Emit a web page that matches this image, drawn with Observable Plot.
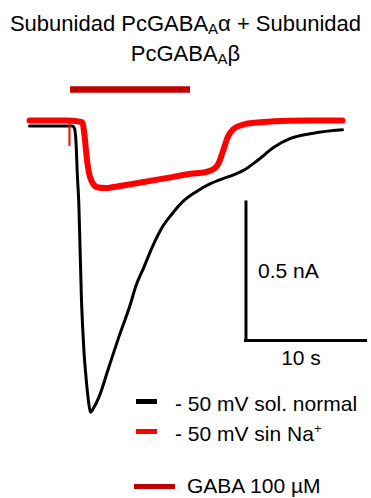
<!DOCTYPE html>
<html>
<head>
<meta charset="utf-8">
<script src="https://cdn.jsdelivr.net/npm/d3@7"></script>
<script src="https://cdn.jsdelivr.net/npm/@observablehq/plot@0.6"></script>
<style>
  html, body { margin: 0; padding: 0; background: #fff; }
  body { width: 371px; height: 498px; position: relative; overflow: hidden; font-family: "Liberation Sans", Arial, sans-serif; }
  #title { height: 72px; box-sizing: border-box; padding-top: 10px; text-align: center; font-size: 22px; line-height: 28px; color: #000; white-space: nowrap; }
  .sub { font-size: 15px; position: relative; top: 3px; }
  #chart svg { display: block; }
  .leg { position: absolute; font-size: 21px; line-height: 24px; color: #000; white-space: nowrap; }
  .sw { position: absolute; }
  sup { font-size: 13px; position: relative; top: -8px; vertical-align: baseline; line-height: 0; }
</style>
</head>
<body>
<div id="title">Subunidad PcGABA<span class="sub">A</span>α + Subunidad<br>PcGABA<span class="sub">A</span>β</div>
<div id="chart"></div>
<div id="legend"></div>
<script>
// Trace: -50 mV normal solution (time in s, current in nA)
const blackT = [0, 3.58, 3.75, 3.89, 3.98, 4.11, 4.33, 4.53, 4.73, 4.94, 5.08, 5.36, 5.78, 6.61, 7.44, 8.42, 8.83, 9.53, 10.23, 11.06, 11.89, 12.73, 13.83, 15.08, 16.17, 17.0, 17.83, 19.0, 20.33, 21.75, 23.67, 26.08];
const blackI = [0, 0, -0.009, -0.07, -0.17, -0.28, -0.63, -0.81, -0.92, -1.005, -1.037, -1.02, -0.983, -0.874, -0.765, -0.644, -0.584, -0.512, -0.439, -0.367, -0.318, -0.276, -0.240, -0.209, -0.190, -0.177, -0.161, -0.125, -0.078, -0.045, -0.026, -0.014];
// Trace: -50 mV without Na+
const redT = [0, 3.25, 4.39, 4.61, 4.75, 4.94, 5.23, 5.64, 6.33, 7.0, 8.67, 11.5, 13.42, 14.67, 15.42, 15.75, 16.0, 16.25, 16.5, 17.0, 17.58, 18.17, 20.33, 23.17, 26.08];
const redI = [0.02, 0.02, 0.014, -0.045, -0.107, -0.167, -0.204, -0.222, -0.225, -0.221, -0.209, -0.188, -0.173, -0.167, -0.154, -0.136, -0.107, -0.074, -0.042, -0.011, 0.002, 0.009, 0.017, 0.02, 0.02];
// Artefact spike on the red trace
const redSpikeT = [3.33];
const redSpikeFrom = [0.02];
const redSpikeTo = [-0.074];
// GABA application (s)
const gabaStart = [3.42];
const gabaEnd = [13.42];
const gabaLevel = [0.132];
// Scale bars
const scaleOriginT = [18.04];
const scaleOriginI = [-0.777];
const scaleDT = [10];     // s
const scaleDI = [0.5];    // nA
const scaleLabels = ["10 s", "0.5 nA"];
// Legend
const legendLabels = ["- 50 mV sol. normal", "- 50 mV sin Na<sup>+</sup>", "GABA 100 µM"];
const legendColors = ["#000000", "#ff0000", "#c00000"];

const blackData = blackT.map((t, i) => ({t, I: blackI[i]}));
const redData = redT.map((t, i) => ({t, I: redI[i]}));
const spikeData = redSpikeT.map((t, i) => ({t, y1: redSpikeFrom[i], y2: redSpikeTo[i]}));
const gabaData = gabaStart.map((s, i) => ({x1: s, x2: gabaEnd[i], y: gabaLevel[i]}));
const vBar = scaleOriginT.map((t, i) => ({t, y1: scaleOriginI[i], y2: scaleOriginI[i] + scaleDI[i]}));
const hBar = scaleOriginT.map((t, i) => ({x1: t, x2: t + scaleDT[i], y: scaleOriginI[i]}));
const tLabel = [{t: scaleOriginT[0] + scaleDT[0] / 2, I: scaleOriginI[0], text: scaleLabels[0]}];
const iLabel = [{t: scaleOriginT[0], I: scaleOriginI[0] + scaleDI[0] / 2, text: scaleLabels[1]}];

const W = 371, H = 426;
const chart = Plot.plot({
  width: W, height: H, margin: 0,
  style: {fontFamily: "'Liberation Sans', Arial, sans-serif", background: "white"},
  x: {domain: [-29 / 12, (371 - 29) / 12], axis: null},
  y: {domain: [(53.5 - 426) / 276, 53.5 / 276], axis: null},
  marks: [
    Plot.ruleY(gabaData, {x1: "x1", x2: "x2", y: "y", stroke: legendColors[2], strokeWidth: 6.5}),
    Plot.line(blackData, {x: "t", y: "I", stroke: legendColors[0], strokeWidth: 3, curve: "monotone-x"}),
    Plot.line(redData, {x: "t", y: "I", stroke: legendColors[1], strokeWidth: 6, curve: "monotone-x"}),
    Plot.ruleX(spikeData, {x: "t", y1: "y1", y2: "y2", stroke: legendColors[1], strokeWidth: 2}),
    Plot.ruleX(vBar, {x: "t", y1: "y1", y2: "y2", stroke: "#000", strokeWidth: 3, strokeLinecap: "square"}),
    Plot.ruleY(hBar, {x1: "x1", x2: "x2", y: "y", stroke: "#000", strokeWidth: 3, strokeLinecap: "square"}),
    Plot.text(tLabel, {x: "t", y: "I", text: "text", dx: -5, dy: 18, fontSize: 21, textAnchor: "middle", lineAnchor: "middle", fill: "#000"}),
    Plot.text(iLabel, {x: "t", y: "I", text: "text", dx: 12, dy: 0, fontSize: 21, textAnchor: "start", lineAnchor: "middle", fill: "#000"})
  ]
});
document.getElementById("chart").appendChild(chart);

// Legend overlay (page pixels)
const leg = document.getElementById("legend");
const legRows = [
  {sx: 136, sw: 21, sy: 398.5, sh: 5, tx: 175, ty: 404},
  {sx: 136, sw: 21, sy: 428.5, sh: 5, tx: 175, ty: 434},
  {sx: 134, sw: 41, sy: 483.5, sh: 5.5, tx: 187, ty: 486}
];
legendLabels.forEach((lab, i) => {
  const r = legRows[i];
  const s = document.createElement("div");
  s.className = "sw";
  s.style.cssText = `left:${r.sx}px;top:${r.sy}px;width:${r.sw}px;height:${r.sh}px;background:${legendColors[i]}`;
  leg.appendChild(s);
  const t = document.createElement("div");
  t.className = "leg";
  t.style.left = r.tx + "px";
  t.style.top = (r.ty - 12) + "px";
  t.innerHTML = lab;
  leg.appendChild(t);
});
</script>
</body>
</html>
